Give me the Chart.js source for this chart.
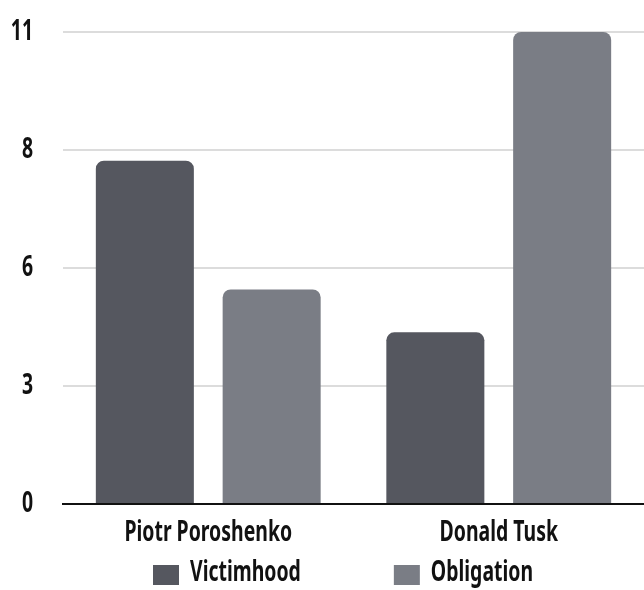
<!DOCTYPE html>
<html>
<head>
<meta charset="utf-8">
<script src="https://cdn.jsdelivr.net/npm/chart.js@4/dist/chart.umd.min.js"></script>
<style>
  html, body { margin: 0; padding: 0; background: #fff; overflow: hidden; }
  #wrap { width: 644px; height: 590px; position: relative; }
</style>
</head>
<body>
<div id="wrap"><canvas id="chart"></canvas></div>
<script>
// Speakers compared on the x axis
const categories = ['Piotr Poroshenko', 'Donald Tusk'];
// Counts per frame
const victimhood = [8, 4];
const obligation = [5, 11];
// Y-axis tick positions and the labels printed beside them
const tickValues = [0, 2.75, 5.5, 8.25, 11];
const tickLabels = ['0', '3', '6', '8', '11'];

const FONT = "'Noto Sans', 'DejaVu Sans Condensed', sans-serif";
const WEIGHT = 'bold';
const SIZE = 29;
const SQUEEZE = 0.67;   // horizontal condensing applied to every label
const TEXT = '#111';
Chart.defaults.font.family = FONT;
Chart.defaults.color = TEXT;

// Condensed lettering: every label on this canvas is drawn narrowed horizontally
const canvas = document.getElementById('chart');
const ctx2d = canvas.getContext('2d');
const rawFillText = ctx2d.fillText.bind(ctx2d);
ctx2d.fillText = function (text, x, y, maxWidth) {
  const w = ctx2d.measureText(text).width * SQUEEZE;
  rawFillText(text, x, y, maxWidth === undefined ? w : Math.min(maxWidth, w));
};

// Legend row under the axis labels
const bottomLegend = {
  id: 'bottomLegend',
  afterDraw(chart, args, opts) {
    const ctx = chart.ctx;
    ctx.save();
    ctx.font = `${WEIGHT} ${SIZE}px ${FONT}`;
    ctx.textBaseline = 'middle';
    ctx.textAlign = 'left';
    let x = opts.startX;
    chart.data.datasets.forEach(ds => {
      const w = ctx.measureText(ds.label).width * SQUEEZE;
      ctx.fillStyle = ds.backgroundColor;
      ctx.fillRect(x, opts.boxTop, opts.boxW, opts.boxH);
      ctx.fillStyle = TEXT;
      ctx.fillText(ds.label, x + opts.boxW + opts.gap, opts.textY);
      x += opts.boxW + opts.gap + w + opts.spacing;
    });
    ctx.restore();
  }
};

new Chart(canvas, {
  type: 'bar',
  data: {
    labels: categories,
    datasets: [
      { label: 'Victimhood', data: victimhood, backgroundColor: '#55575f',
        borderRadius: 8, categoryPercentage: 0.873, barPercentage: 0.773 },
      { label: 'Obligation', data: obligation, backgroundColor: '#7a7d85',
        borderRadius: 8, categoryPercentage: 0.873, barPercentage: 0.773 }
    ]
  },
  plugins: [bottomLegend],
  options: {
    responsive: true,
    maintainAspectRatio: false,
    animation: false,
    layout: { padding: { top: 0, right: 0, left: 0, bottom: 36 } },
    plugins: {
      tooltip: { enabled: false },
      legend: { display: false },
      bottomLegend: { startX: 153, boxW: 26, boxH: 20, boxTop: 565, gap: 11, spacing: 93, textY: 573 }
    },
    scales: {
      x: {
        grid: { display: false },
        border: { display: true, color: '#111', width: 2 },
        afterFit: (scale) => { scale.height = 50; },
        ticks: { font: { size: SIZE, weight: WEIGHT }, color: TEXT, padding: 3 }
      },
      y: {
        min: 0, max: 11,
        afterBuildTicks: (scale) => { scale.ticks = tickValues.map(v => ({ value: v })); },
        afterFit: (scale) => { scale.width = 63; scale.paddingTop = 32; scale.paddingBottom = 0; },
        border: { display: false },
        grid: {
          drawTicks: false,
          color: (c) => c.tick && c.tick.value === 0 ? '#111' : '#dcdcdc',
          lineWidth: 2
        },
        ticks: {
          padding: 30,
          font: { size: SIZE, weight: WEIGHT }, color: TEXT,
          callback: (v, i) => tickLabels[i]
        }
      }
    }
  }
});
</script>
</body>
</html>
